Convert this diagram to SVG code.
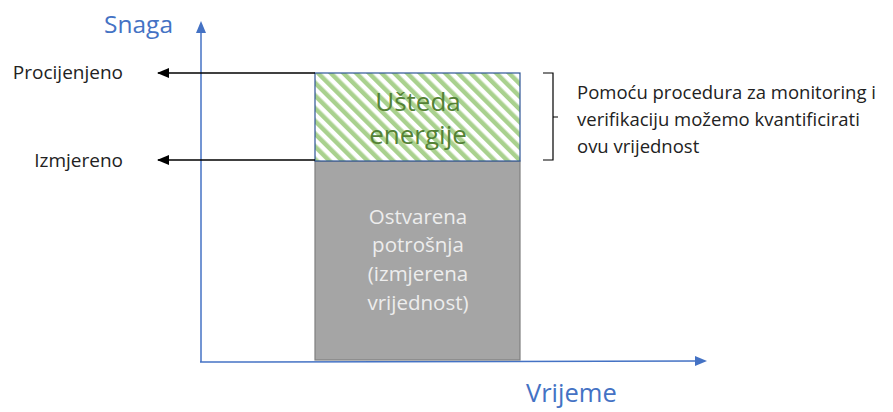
<svg xmlns="http://www.w3.org/2000/svg" width="893" height="412" viewBox="0 0 893 412">
<style>
text{font-family:"Open Sans","Noto Sans",sans-serif}
.axis{stroke:#4472C4;stroke-width:1.5;fill:none}
.lbl{font-size:19px;fill:#222}
.axl{fill:#4472C4}
.conn{stroke:#000;stroke-width:1.3;fill:none}
.note{font-size:18.5px;fill:#222}
.sav{font-size:26px;fill:#548235;text-anchor:middle}
.use{font-size:20.5px;fill:#EDEDED;text-anchor:middle}
</style>
<defs>
<pattern id="hatch" width="9" height="9" patternUnits="userSpaceOnUse" patternTransform="rotate(-45)">
<rect width="9" height="9" fill="#fff"/>
<rect width="4.5" height="9" fill="#A9D18E"/>
</pattern>
<marker id="ah" markerWidth="12" markerHeight="10" refX="11" refY="5" orient="auto" markerUnits="userSpaceOnUse">
<path d="M0,0 L12,5 L0,10 Z" fill="#000"/>
</marker>
</defs>
<rect width="893" height="412" fill="#fff"/>
<g id="axes">
<line class="axis" x1="201" y1="362" x2="201" y2="32"/>
<path d="M201,21 L196,33 L206,33 Z" fill="#4472C4"/>
<line class="axis" x1="200" y1="362" x2="696" y2="361"/>
<path d="M707,361 L695,356 L695,366 Z" fill="#4472C4"/>
<text class="axl" x="104" y="33" font-size="24.5px">Snaga</text>
<text class="axl" x="526" y="402" font-size="25.5px">Vrijeme</text>
</g>
<g id="consumption">
<rect x="315" y="161" width="205" height="199" fill="#A5A5A5" stroke="#7F7F7F" stroke-width="1.2"/>
<text class="use" x="418" y="224">Ostvarena</text>
<text class="use" x="418" y="252">potrošnja</text>
<text class="use" x="418" y="281">(izmjerena</text>
<text class="use" x="418" y="310">vrijednost)</text>
</g>
<g id="savings">
<rect x="315" y="73" width="205" height="88" fill="url(#hatch)" stroke="#2F5597" stroke-width="1.2"/>
<text class="sav" x="418" y="111">Ušteda</text>
<text class="sav" x="418" y="144">energije</text>
</g>
<g id="connectors">
<line class="conn" x1="315" y1="73" x2="158" y2="73" marker-end="url(#ah)"/>
<line class="conn" x1="315" y1="160" x2="158" y2="160" marker-end="url(#ah)"/>
<path d="M543,73 H553 V160 H543 M553,117 H558" stroke="#000" stroke-width="1.2" fill="none"/>
</g>
<g id="labels">
<text class="lbl" x="123" y="79" text-anchor="end">Procijenjeno</text>
<text class="lbl" x="123" y="167" text-anchor="end">Izmjereno</text>
</g>
<g id="note">
<text class="note" x="577" y="99">Pomoću procedura za monitoring i</text>
<text class="note" x="577" y="126">verifikaciju možemo kvantificirati</text>
<text class="note" x="577" y="153">ovu vrijednost</text>
</g>
</svg>
